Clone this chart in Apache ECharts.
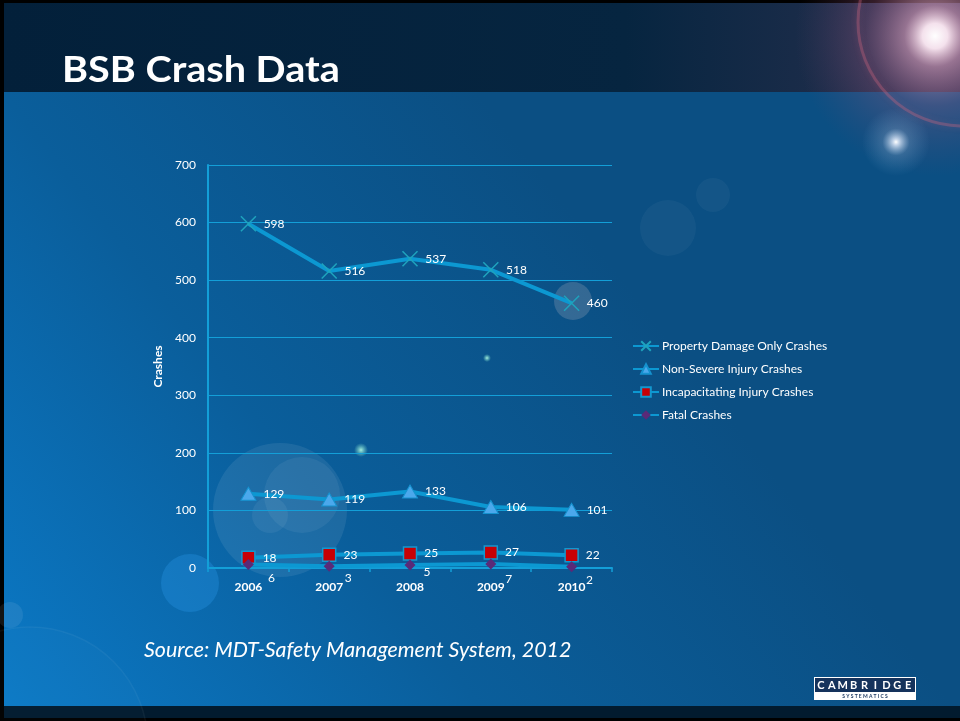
<!DOCTYPE html>
<html>
<head>
<meta charset="utf-8">
<title>BSB Crash Data</title>
<script src="https://cdn.jsdelivr.net/npm/echarts@6.0.0/dist/echarts.min.js"></script>
<style>
  html, body { margin: 0; padding: 0; background: #000; }
  #chart { width: 960px; height: 721px; }
</style>
</head>
<body>
<div id="chart"></div>
<script>
// Crash counts by year, 2006-2010
const years = ['2006', '2007', '2008', '2009', '2010'];
const propertyDamage = [598, 516, 537, 518, 460];
const nonSevere = [129, 119, 133, 106, 101];
const incapacitating = [18, 23, 25, 27, 22];
const fatal = [6, 3, 5, 7, 2];
const seriesNames = [
  'Property Damage Only Crashes',
  'Non-Severe Injury Crashes',
  'Incapacitating Injury Crashes',
  'Fatal Crashes'
];
const yTicks = { min: 0, max: 700, interval: 100 };

// label nudges for the fatal series so the numbers sit below-right of the markers
const fatalLabelOffsets = [[23, 14], [19, 12], [17, 7], [18, 15], [18, 13]];

const FONT = 'Lato, "Open Sans", sans-serif';
const LINE = '#0c98d2';

const chart = echarts.init(document.getElementById('chart'), null, { renderer: 'canvas' });

function glow(cx, cy, r, stops, z) {
  return {
    type: 'circle', silent: true, z: z || -9,
    shape: { cx: cx, cy: cy, r: r },
    style: {
      fill: {
        type: 'radial', x: 0.5, y: 0.5, r: 0.5,
        colorStops: stops
      }
    }
  };
}
function bubble(cx, cy, r, fill, stroke) {
  return {
    type: 'circle', silent: true, z: -8,
    shape: { cx: cx, cy: cy, r: r },
    style: { fill: fill, stroke: stroke || null, lineWidth: 1.5 }
  };
}

// spaced-out logo lettering
const logoWord = 'CAMBRIDGE'.split('').map((ch, i) => ({
  type: 'text', x: 7 + i * 10.9, y: 8,
  style: { text: ch, fill: '#ffffff', font: 'bold 11px ' + FONT, align: 'center', verticalAlign: 'middle' }
}));

const background = [
  // slide body
  {
    type: 'rect', silent: true, z: -10,
    shape: { x: 4, y: 92, width: 956, height: 614 },
    style: {
      fill: {
        type: 'linear', x: 0, y: 1, x2: 0.62, y2: 0.25,
        colorStops: [
          { offset: 0, color: '#0b79c6' },
          { offset: 0.5, color: '#0a5e9b' },
          { offset: 1, color: '#0b4f83' }
        ]
      }
    }
  },
  // header band
  {
    type: 'rect', silent: true, z: -10,
    shape: { x: 4, y: 3, width: 956, height: 89 },
    style: {
      fill: {
        type: 'linear', x: 0, y: 0, x2: 1, y2: 0,
        colorStops: [
          { offset: 0, color: '#03203a' },
          { offset: 0.65, color: '#062540' },
          { offset: 1, color: '#2a3150' }
        ]
      }
    }
  },
  // footer band
  {
    type: 'rect', silent: true, z: -10,
    shape: { x: 4, y: 706, width: 956, height: 12 },
    style: { fill: '#021b2f' }
  },
  // lens flare, top right
  glow(935, 36, 140, [
    { offset: 0, color: 'rgba(255,255,255,1)' },
    { offset: 0.09, color: 'rgba(255,235,245,0.95)' },
    { offset: 0.22, color: 'rgba(225,160,190,0.6)' },
    { offset: 0.5, color: 'rgba(170,95,135,0.3)' },
    { offset: 1, color: 'rgba(120,70,110,0)' }
  ]),
  {
    type: 'circle', silent: true, z: -9,
    shape: { cx: 962, cy: 22, r: 104 },
    style: { fill: null, stroke: 'rgba(205,100,125,0.35)', lineWidth: 3, shadowBlur: 6, shadowColor: 'rgba(200,100,130,0.5)' }
  },
  glow(896, 142, 34, [
    { offset: 0, color: 'rgba(255,255,255,1)' },
    { offset: 0.1, color: 'rgba(230,240,255,0.8)' },
    { offset: 0.4, color: 'rgba(170,200,230,0.22)' },
    { offset: 1, color: 'rgba(150,190,230,0)' }
  ]),
  // bokeh
  bubble(280, 510, 67, 'rgba(255,255,255,0.08)'),
  bubble(302, 495, 38, 'rgba(255,255,255,0.06)'),
  bubble(270, 515, 18, 'rgba(255,255,255,0.06)'),
  bubble(190, 583, 29, 'rgba(40,150,230,0.35)'),
  bubble(30, 745, 118, 'rgba(255,255,255,0.015)', 'rgba(255,255,255,0.05)'),
  bubble(10, 615, 13, 'rgba(255,255,255,0.08)'),
  bubble(668, 228, 28, 'rgba(255,255,255,0.04)'),
  bubble(713, 195, 17, 'rgba(255,255,255,0.04)'),
  bubble(573, 301, 19, 'rgba(200,190,200,0.22)'),
  glow(361, 450, 7, [
    { offset: 0, color: 'rgba(180,255,230,0.9)' },
    { offset: 1, color: 'rgba(120,220,200,0)' }
  ]),
  glow(487, 358, 4, [
    { offset: 0, color: 'rgba(180,255,230,0.9)' },
    { offset: 1, color: 'rgba(120,220,200,0)' }
  ]),
  // slide title
  {
    type: 'text', silent: true, z: 5,
    x: 62, y: 52, scaleX: 1.1,
    style: { text: 'BSB Crash Data', fill: '#ffffff', font: 'bold 36px ' + FONT }
  },
  // source note
  {
    type: 'text', silent: true, z: 5,
    left: 144, top: 640,
    style: { text: 'Source: MDT-Safety Management System, 2012', fill: '#ffffff', font: 'italic 21.4px ' + FONT }
  },
  // company logo
  {
    type: 'group', left: 814, top: 677, z: 5, silent: true,
    children: [
      { type: 'rect', shape: { x: 0, y: 0, width: 102, height: 23 }, style: { fill: '#ffffff' } },
      { type: 'rect', shape: { x: 1, y: 1, width: 100, height: 14 }, style: { fill: '#15335c' } },
      ...logoWord,
      {
        type: 'text', x: 51, y: 19,
        style: { text: 'S Y S T E M A T I C S', fill: '#15335c', font: 'bold 5px ' + FONT, align: 'center', verticalAlign: 'middle' }
      }
    ]
  }
];

function labelStyle(extra) {
  return Object.assign({
    show: true, position: 'right', distance: 7,
    color: '#ffffff', fontFamily: FONT, fontSize: 12
  }, extra || {});
}

const fatalData = fatal.map((v, i) => ({
  value: v,
  label: { offset: fatalLabelOffsets[i] }
}));

const option = {
  backgroundColor: '#000000',
  animation: false,
  graphic: background,
  grid: { left: 208, right: 348, top: 165, bottom: 153 },
  legend: {
    orient: 'vertical',
    left: 627, top: 335,
    itemWidth: 26, itemHeight: 12, itemGap: 11,
    textStyle: { color: '#ffffff', fontFamily: FONT, fontSize: 12, padding: [0, 0, 0, -2] },
    data: seriesNames
  },
  xAxis: {
    type: 'category',
    data: years,
    boundaryGap: true,
    axisLine: { lineStyle: { color: '#139fd8', width: 2 } },
    axisTick: { show: true, length: 4, inside: false, lineStyle: { color: '#139fd8', width: 1.5 } },
    axisLabel: { color: '#ffffff', fontFamily: FONT, fontSize: 12, fontWeight: 'bold', margin: 13 },
    splitLine: { show: false }
  },
  yAxis: {
    type: 'value',
    min: yTicks.min, max: yTicks.max, interval: yTicks.interval,
    name: 'Crashes',
    nameLocation: 'middle',
    nameGap: 44,
    nameTextStyle: { color: '#ffffff', fontFamily: FONT, fontSize: 12, fontWeight: 'bold' },
    axisLine: { show: true, lineStyle: { color: '#139fd8', width: 2 } },
    axisTick: { show: false },
    axisLabel: { color: '#ffffff', fontFamily: FONT, fontSize: 12, margin: 12 },
    splitLine: { lineStyle: { color: '#139fd8', width: 1 } }
  },
  series: [
    {
      name: seriesNames[0], type: 'line', data: propertyDamage,
      symbol: 'path://M0,0L10,10M10,0L0,10', symbolSize: 15,
      lineStyle: { color: LINE, width: 4 },
      itemStyle: { color: 'rgba(0,0,0,0)', borderColor: '#1fa3bd', borderWidth: 1.5 },
      label: labelStyle(),
      z: 4
    },
    {
      name: seriesNames[1], type: 'line', data: nonSevere,
      symbol: 'triangle', symbolSize: [15, 13],
      lineStyle: { color: LINE, width: 4 },
      itemStyle: { color: '#4ba8ec', borderColor: '#1592cf', borderWidth: 1 },
      label: labelStyle(),
      z: 4
    },
    {
      name: seriesNames[2], type: 'line', data: incapacitating,
      symbol: 'rect', symbolSize: 13,
      lineStyle: { color: LINE, width: 4 },
      itemStyle: { color: '#c70005', borderColor: '#1398cf', borderWidth: 1.5 },
      label: labelStyle(),
      z: 4
    },
    {
      name: seriesNames[3], type: 'line', data: fatalData,
      symbol: 'diamond', symbolSize: 11,
      lineStyle: { color: LINE, width: 4 },
      itemStyle: { color: '#5a2a78', borderColor: '#5a2a78', borderWidth: 0 },
      label: labelStyle({ position: 'inside', distance: 0 }),
      z: 5
    }
  ]
};

chart.setOption(option);
</script>
</body>
</html>
